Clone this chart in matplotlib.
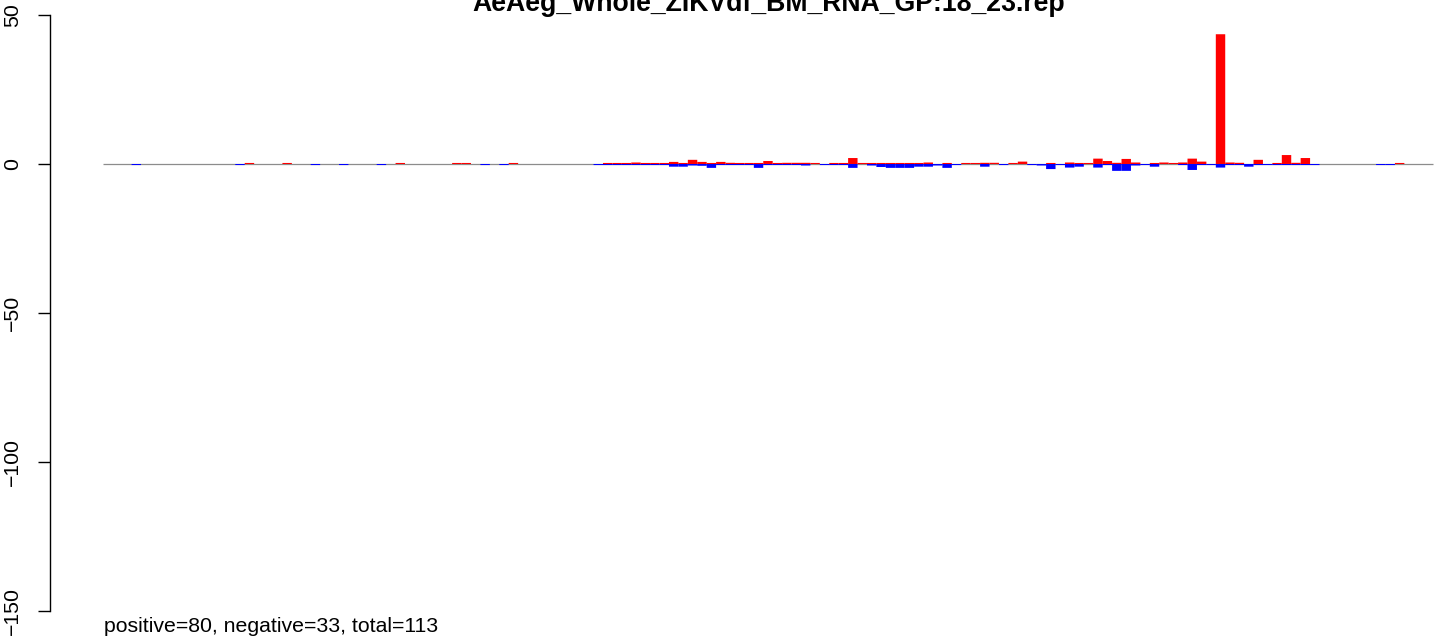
import matplotlib
matplotlib.use("Agg")
import matplotlib.pyplot as plt
import numpy as np

plt.rcParams['font.family'] = ['Liberation Sans', 'DejaVu Sans']

title = "AeAeg_Whole_ZIKVdf_BM_RNA_GP:18_23.rep"
footer = "positive=80, negative=33, total=113"
yticks = [-150, -100, -50, 0, 50]

# sense (red, positive) values per position 0..140
sense = [
    0, 0, 0, 0, 0, 0, 0, 0, 0, 0,            # 0-9
    0, 0, 0, 0, 0, 0.35, 0, 0, 0, 0.35,      # 10-19
    0, 0, 0, 0, 0, 0, 0, 0, 0, 0,            # 20-29
    0, 0.35, 0, 0, 0, 0, 0, 0.35, 0.35, 0,   # 30-39
    0, 0, 0, 0.35, 0, 0, 0, 0, 0, 0,         # 40-49
    0, 0, 0, 0.35, 0.35, 0.35, 0.5, 0.35, 0.35, 0.35,   # 50-59
    0.7, 0.35, 1.4, 0.7, 0.35, 0.7, 0.4, 0.35, 0.35, 0.35,   # 60-69
    1.0, 0.35, 0.4, 0.4, 0.4, 0.35, 0, 0.35, 0.35, 2.0,     # 70-79
    0.35, 0.35, 0.35, 0.35, 0.35, 0.35, 0.35, 0.5, 0, 0.35, # 80-89
    0, 0.35, 0.35, 0.4, 0.4, 0, 0.35, 0.8, 0, 0,            # 90-99
    0.35, 0, 0.5, 0.35, 0.35, 1.8, 1.0, 0.4, 1.7, 0.5,      # 100-109
    0, 0.35, 0.5, 0.35, 0.5, 1.8, 0.8, 0, 43.5, 0.5,        # 110-119
    0.4, 0, 1.4, 0, 0.35, 3.0, 0.4, 2.0, 0, 0,              # 120-129
    0, 0, 0, 0, 0, 0, 0, 0.35, 0, 0,                        # 130-139
    0,                                                       # 140
]

# antisense (blue, plotted negative) magnitudes per position 0..140
antisense = [
    0, 0, 0, 0.35, 0, 0, 0, 0, 0, 0,         # 0-9
    0, 0, 0, 0, 0.35, 0, 0, 0, 0, 0,         # 10-19
    0, 0, 0.35, 0, 0, 0.35, 0, 0, 0, 0.35,   # 20-29
    0, 0, 0, 0, 0, 0, 0, 0, 0, 0,            # 30-39
    0.35, 0, 0.35, 0, 0, 0, 0, 0, 0, 0,      # 40-49
    0, 0, 0.35, 0.35, 0.35, 0.35, 0.35, 0.35, 0.35, 0.35,   # 50-59
    0.9, 0.9, 0.5, 0.6, 1.3, 0.35, 0.35, 0.35, 0.35, 1.3,   # 60-69
    0.35, 0.35, 0.35, 0.35, 0.5, 0, 0.35, 0.35, 0.35, 1.3,  # 70-79
    0, 0.5, 1.0, 1.3, 1.3, 1.3, 0.9, 0.9, 0.5, 1.3,         # 80-89
    0.35, 0, 0, 0.9, 0, 0.35, 0, 0, 0.35, 0.5,              # 90-99
    1.7, 0.35, 1.2, 0.9, 0, 1.2, 0.35, 2.3, 2.3, 0.5,       # 100-109
    0.35, 0.9, 0, 0, 0.35, 2.0, 0.35, 0.35, 1.2, 0.35,      # 110-119
    0.35, 0.9, 0.35, 0.35, 0.35, 0.35, 0.35, 0.35, 0.35, 0, # 120-129
    0, 0, 0, 0, 0, 0.35, 0.35, 0, 0, 0,                     # 130-139
    0,                                                       # 140
]

W, H = 1444, 643
fig = plt.figure(figsize=(W / 100, H / 100), dpi=100)

px_per_x = 9.428
x0_px = 103.3
ax_left_px, ax_right_px = 50, 1436
y0_px = 164.0
px_per_y = 2.983

ax = fig.add_axes([ax_left_px / W, 0, (ax_right_px - ax_left_px) / W, 1])
ax.set_xlim(-(x0_px - ax_left_px) / px_per_x, (ax_right_px - x0_px) / px_per_x)
ax.set_ylim(-(H - y0_px) / px_per_y, y0_px / px_per_y)

n = len(sense)
idx = np.arange(n)
ax.plot([0, n], [0, 0], color='#8c8c8c', lw=0.9, zorder=1, solid_capstyle='butt')
ax.bar(idx, sense, width=1.0, align='edge', color='#ff0000', linewidth=0, zorder=2, snap=False)
ax.bar(idx, -np.array(antisense), width=1.0, align='edge', color='#0000ff', linewidth=0, zorder=2, snap=False)

for s in ['top', 'right', 'bottom']:
    ax.spines[s].set_visible(False)
ax.spines['left'].set_bounds(-150, 50)
ax.spines['left'].set_linewidth(1.0)
ax.set_xticks([])
ax.set_yticks(yticks)
ax.set_yticklabels([str(t).replace('-', '\u2212') for t in yticks], rotation=90, va='center')
ax.tick_params(axis='y', length=9, width=1.0, pad=11, labelsize=15.3)

fig.text(769 / W, 1 - 11 / H, title, ha='center', va='baseline', fontsize=19.2, fontweight='bold')
fig.text(104 / W, (H - 632) / H, footer, ha='left', va='baseline', fontsize=15.3)

fig.savefig('out.png', dpi=100)
